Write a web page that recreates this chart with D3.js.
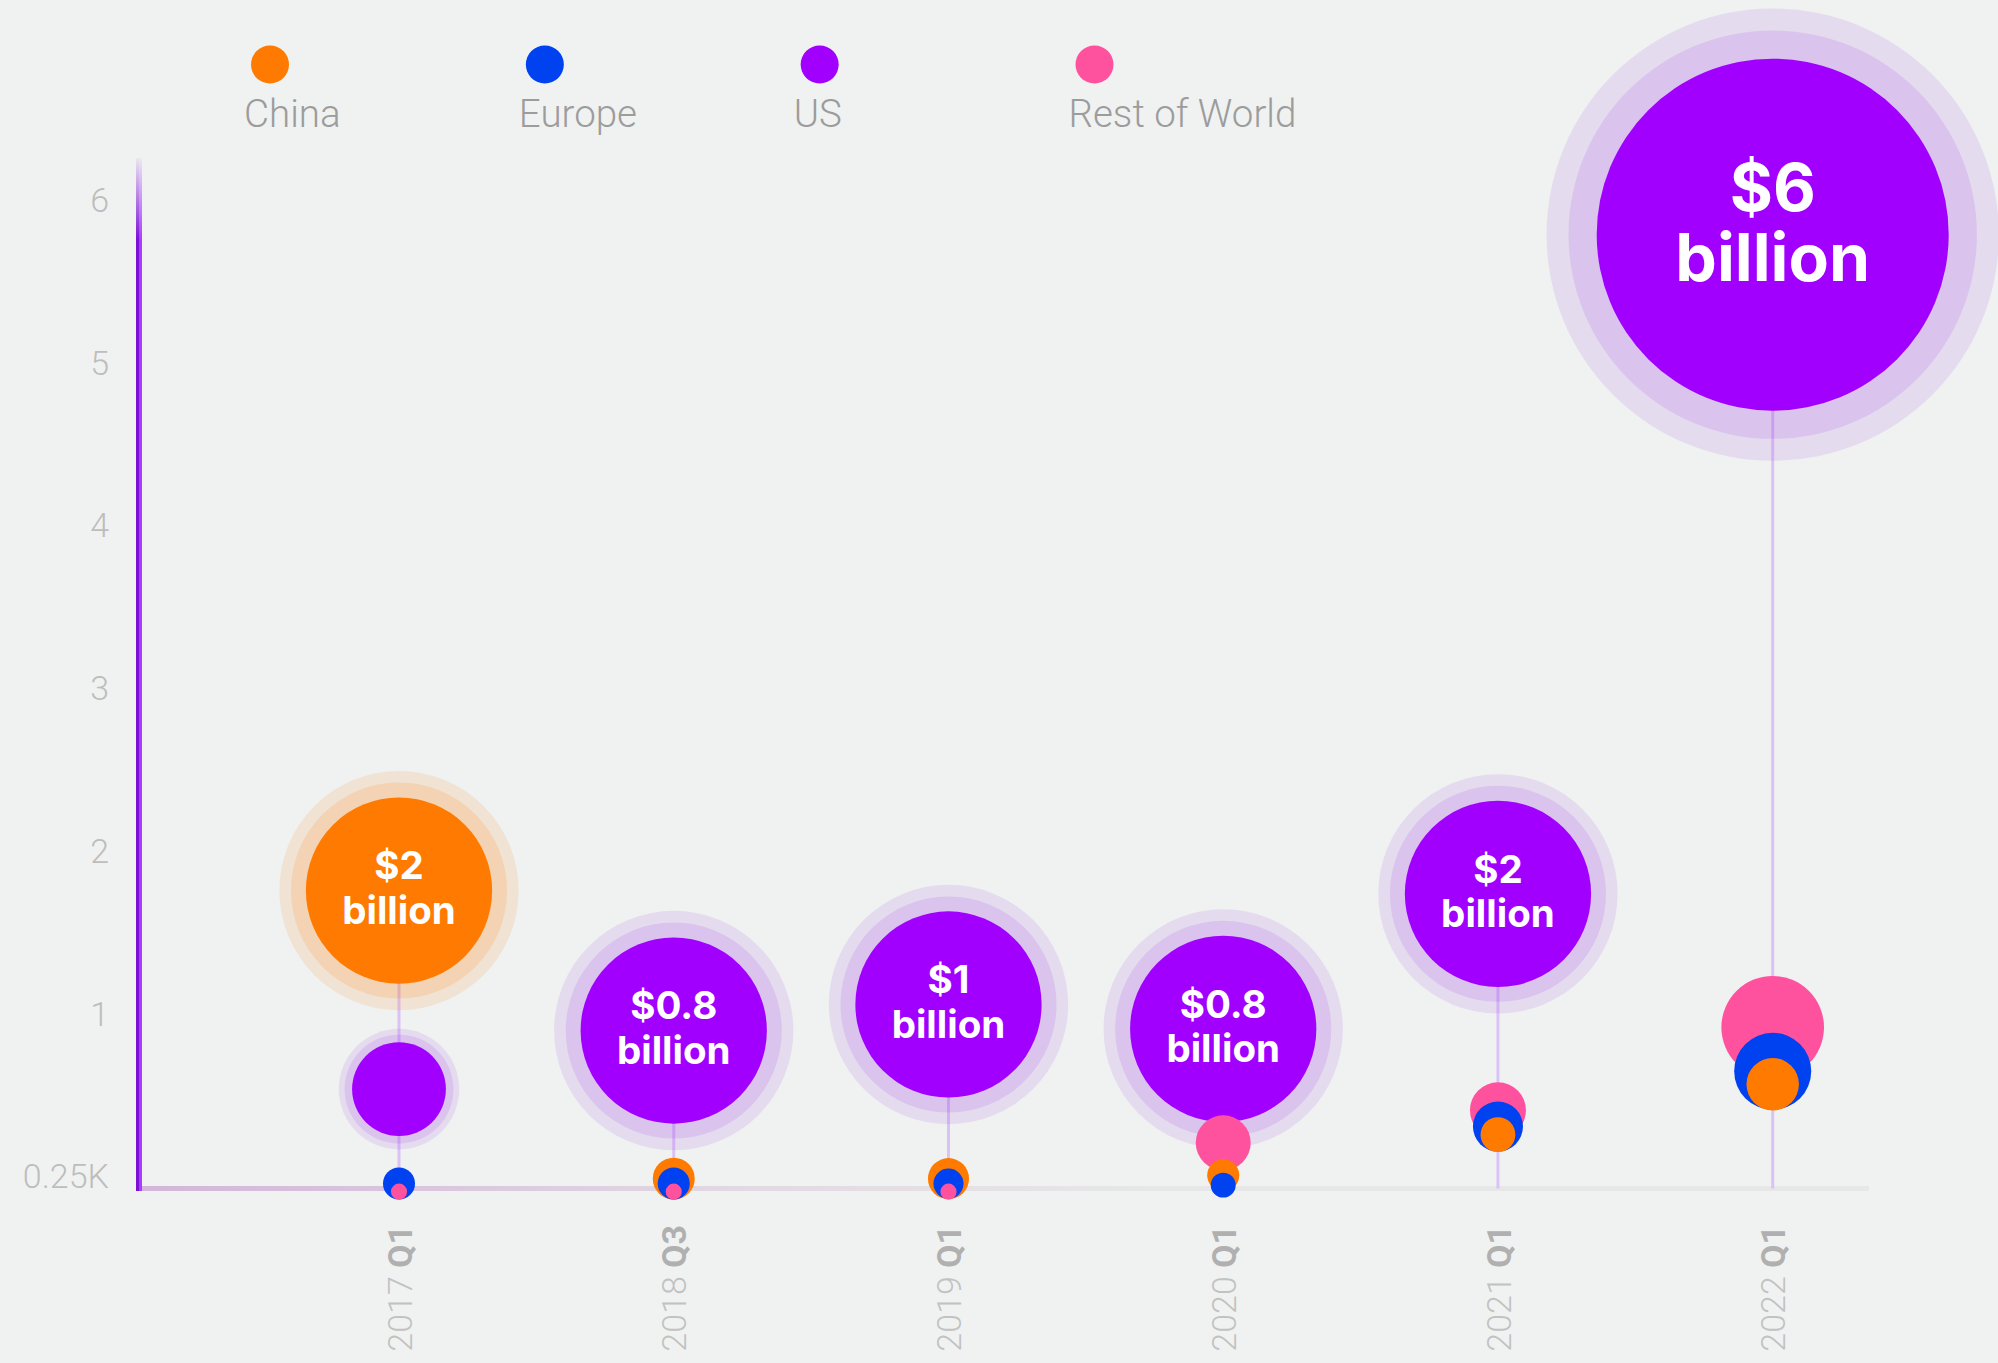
<!DOCTYPE html>
<html>
<head>
<meta charset="utf-8">
<script src="https://cdn.jsdelivr.net/npm/d3@7"></script>
<style>
  body { margin: 0; background: #f0f2f1; }
  svg { display: block; }
</style>
</head>
<body>
<div class="parentBubble"></div>
<script>
// quarters on the x axis
let years = ["2017", "2018", "2019", "2020", "2021", "2022"];
let quarters = ["Q1", "Q3", "Q1", "Q1", "Q1", "Q1"];

// regions and their colors
let regions = ["China", "Europe", "US", "Rest of World"];
let colors = ["#ff7a00", "#0041f0", "#a100ff", "#ff529e"];

// funding level per quarter (billions, read on the y axis)
let chinaLevel = [1.76, -0.01, -0.01, 0.01, 0.26, 0.57];
let europeLevel = [-0.04, -0.04, -0.04, -0.05, 0.31, 0.65];
let usLevel = [0.54, 0.9, 1.06, 0.91, 1.74, 5.79];
let rowLevel = [-0.09, -0.09, -0.09, 0.21, 0.41, 0.92];

// bubble weight per quarter (relative units, area scaled)
let chinaWeight = [28, 1.42, 1.36, 0.83, 0.98, 2.22];
let europeWeight = [0.83, 0.83, 0.73, 0.5, 2.02, 4.79];
let usWeight = [7.1, 28, 28, 28, 28, 100];
let rowWeight = [0.21, 0.21, 0.21, 2.44, 2.53, 8.5];

// amount written on the leading bubble of every quarter
let leadAmounts = ["$2", "$0.8", "$1", "$0.8", "$2", "$6"];

// y axis ticks
let yTicks = [0, 1, 2, 3, 4, 5, 6];
let yTickLabels = ["0.25K", "1", "2", "3", "4", "5", "6"];

bubbleTimeline(".parentBubble", 1998, 1363);

function bubbleTimeline(parentDiv, width, height) {
  // Exposed variables
  let attrs = {
    backgroundColor: "#f0f2f1",
    axisX: 139, // x of the vertical axis line
    baseY: 1188.5, // y of the horizontal base line
    baseRight: 1869,
    xRange: [399, 1772.7],
    yRange: [1177, 200.5],
    maxRadius: 176,
    tickFont: "Roboto",
    tickColor: "#bdbdbd",
    legendColor: "#9c9c9c",
    yearColor: "#c2c2c2",
    quarterColor: "#b0b0b0",
    labelFont: "Inter",
    connectorColor: "#dbc2f6",
    haloColors: { China: "#ff7a00", US: "#9b3ce6" },
  };

  let levels = [chinaLevel, europeLevel, usLevel, rowLevel];
  let weights = [chinaWeight, europeWeight, usWeight, rowWeight];
  let keys = years.map((y, i) => y + " " + quarters[i]);

  // scales
  let x = d3.scalePoint().domain(keys).range(attrs.xRange);
  let y = d3.scaleLinear().domain([0, 6]).range(attrs.yRange);
  let r = d3.scaleSqrt().domain([0, 100]).range([0, attrs.maxRadius]);
  let labelSize = d3.scaleLinear().domain([93, 176]).range([38.5, 66]);
  let firstLine = d3.scaleLinear().domain([93, 176]).range([-0.29, -0.36]).clamp(true);
  let secondLine = d3.scaleLinear().domain([93, 176]).range([0.86, 0.7]).clamp(true);

  let svg = d3
    .select(parentDiv)
    .append("svg")
    .attr("width", width)
    .attr("height", height)
    .style("background-color", attrs.backgroundColor);

  let defs = svg.append("defs");

  // base line gradient, lavender to grey
  let baseGrad = defs
    .append("linearGradient")
    .attr("id", "baseGrad")
    .attr("gradientUnits", "userSpaceOnUse")
    .attr("x1", attrs.axisX)
    .attr("x2", 1150)
    .attr("y1", 0)
    .attr("y2", 0);
  baseGrad.append("stop").attr("offset", 0).attr("stop-color", "#d3b6d9");
  baseGrad.append("stop").attr("offset", 0.6).attr("stop-color", "#e2d9e3");
  baseGrad.append("stop").attr("offset", 1).attr("stop-color", "#e7e7e7");

  // vertical axis fades in at the top
  [
    ["axisDark", "#7c0fd6"],
    ["axisLight", "#a83dff"],
  ].forEach(function (g) {
    let grad = defs
      .append("linearGradient")
      .attr("id", g[0])
      .attr("gradientUnits", "userSpaceOnUse")
      .attr("x1", 0)
      .attr("x2", 0)
      .attr("y1", 158)
      .attr("y2", 240);
    grad.append("stop").attr("offset", 0).attr("stop-color", g[1]).attr("stop-opacity", 0.05);
    grad.append("stop").attr("offset", 1).attr("stop-color", g[1]).attr("stop-opacity", 1);
  });

  // base line
  svg
    .append("rect")
    .attr("x", attrs.axisX - 2)
    .attr("y", attrs.baseY - 2.5)
    .attr("width", attrs.baseRight - attrs.axisX + 2)
    .attr("height", 5)
    .attr("fill", "url(#baseGrad)");

  // y axis
  let yAxis = svg
    .append("g")
    .attr("transform", "translate(" + attrs.axisX + ",0)")
    .call(
      d3
        .axisLeft(y)
        .tickValues(yTicks)
        .tickSize(0)
        .tickPadding(30)
        .tickFormat((d, i) => yTickLabels[i])
    );
  yAxis.select(".domain").remove();
  yAxis
    .selectAll("text")
    .attr("font-family", attrs.tickFont)
    .attr("font-weight", 300)
    .attr("font-size", 34)
    .attr("fill", attrs.tickColor);

  // x axis, rotated year + bold quarter
  let xAxis = svg
    .append("g")
    .attr("transform", "translate(0,1225)")
    .call(d3.axisBottom(x).tickSize(0));
  xAxis.select(".domain").remove();
  xAxis
    .selectAll("text")
    .attr("transform", "rotate(-90)")
    .attr("x", 0)
    .attr("y", 0)
    .attr("dy", "0.36em")
    .attr("text-anchor", "end")
    .attr("font-family", attrs.tickFont)
    .attr("font-size", 34)
    .each(function (d) {
      let parts = d.split(" ");
      let t = d3.select(this).text(null);
      t.append("tspan")
        .attr("font-weight", 300)
        .attr("fill", attrs.yearColor)
        .text(parts[0] + " ");
      t.append("tspan")
        .attr("font-weight", 700)
        .attr("fill", attrs.quarterColor)
        .text(parts[1]);
    });

  // bubble data per quarter
  let groups = keys.map(function (key, i) {
    let items = regions.map((name, j) => ({
      key: key,
      region: name,
      color: colors[j],
      level: levels[j][i],
      weight: weights[j][i],
    }));
    let lead = items.reduce((a, b) => (b.weight > a.weight ? b : a));
    lead.label = leadAmounts[i];
    items.sort((a, b) => b.weight - a.weight);
    return { key: key, lead: lead, items: items };
  });

  // connector lines from the leading bubble to the base line
  svg
    .append("g")
    .selectAll("line")
    .data(groups)
    .enter()
    .append("line")
    .attr("x1", (d) => x(d.key))
    .attr("x2", (d) => x(d.key))
    .attr("y1", (d) => y(d.lead.level))
    .attr("y2", attrs.baseY)
    .attr("stroke", attrs.connectorColor)
    .attr("stroke-width", 3);

  // bubbles
  groups.forEach(function (g) {
    let gq = svg.append("g").attr("transform", "translate(" + x(g.key) + ",0)");

    g.items.forEach(function (d) {
      let rad = r(d.weight);
      let cy = y(d.level);

      // soft halo rings on US and leading bubbles
      if (d.region === "US" || d === g.lead) {
        let hc = attrs.haloColors[d.region];
        gq.append("circle")
          .attr("cy", cy)
          .attr("r", rad * 1.285)
          .attr("fill", hc)
          .attr("fill-opacity", 0.12);
        gq.append("circle")
          .attr("cy", cy)
          .attr("r", rad * 1.16)
          .attr("fill", hc)
          .attr("fill-opacity", 0.15);
      }

      gq.append("circle").attr("cy", cy).attr("r", rad).attr("fill", d.color);

      if (d.label) {
        let fs = labelSize(rad);
        let txt = gq
          .append("text")
          .attr("text-anchor", "middle")
          .attr("font-family", attrs.labelFont)
          .attr("font-weight", 700)
          .attr("font-size", fs)
          .attr("fill", "#ffffff");
        txt.append("tspan").attr("x", 0).attr("y", cy + firstLine(rad) * fs).text(d.label);
        txt
          .append("tspan")
          .attr("x", 0)
          .attr("y", cy + secondLine(rad) * fs)
          .text("billion");
      }
    });
  });

  // vertical axis line, two tones
  svg
    .append("rect")
    .attr("x", attrs.axisX - 3)
    .attr("y", 158)
    .attr("width", 3)
    .attr("height", attrs.baseY + 2.5 - 158)
    .attr("fill", "url(#axisDark)");
  svg
    .append("rect")
    .attr("x", attrs.axisX)
    .attr("y", 158)
    .attr("width", 3)
    .attr("height", attrs.baseY + 2.5 - 158)
    .attr("fill", "url(#axisLight)");

  // legend
  let legendX = d3.scalePoint().domain(regions).range([270, 1094.5]);
  let legend = svg
    .append("g")
    .selectAll("g")
    .data(regions)
    .enter()
    .append("g")
    .attr("transform", (d) => "translate(" + legendX(d) + ",0)");

  legend
    .append("circle")
    .attr("cy", 64.5)
    .attr("r", 19)
    .attr("fill", (d, i) => colors[i]);

  legend
    .append("text")
    .attr("x", -26)
    .attr("y", 126.5)
    .attr("font-family", attrs.tickFont)
    .attr("font-weight", 300)
    .attr("font-size", 38.5)
    .attr("fill", attrs.legendColor)
    .text((d) => d);
}
</script>
</body>
</html>
